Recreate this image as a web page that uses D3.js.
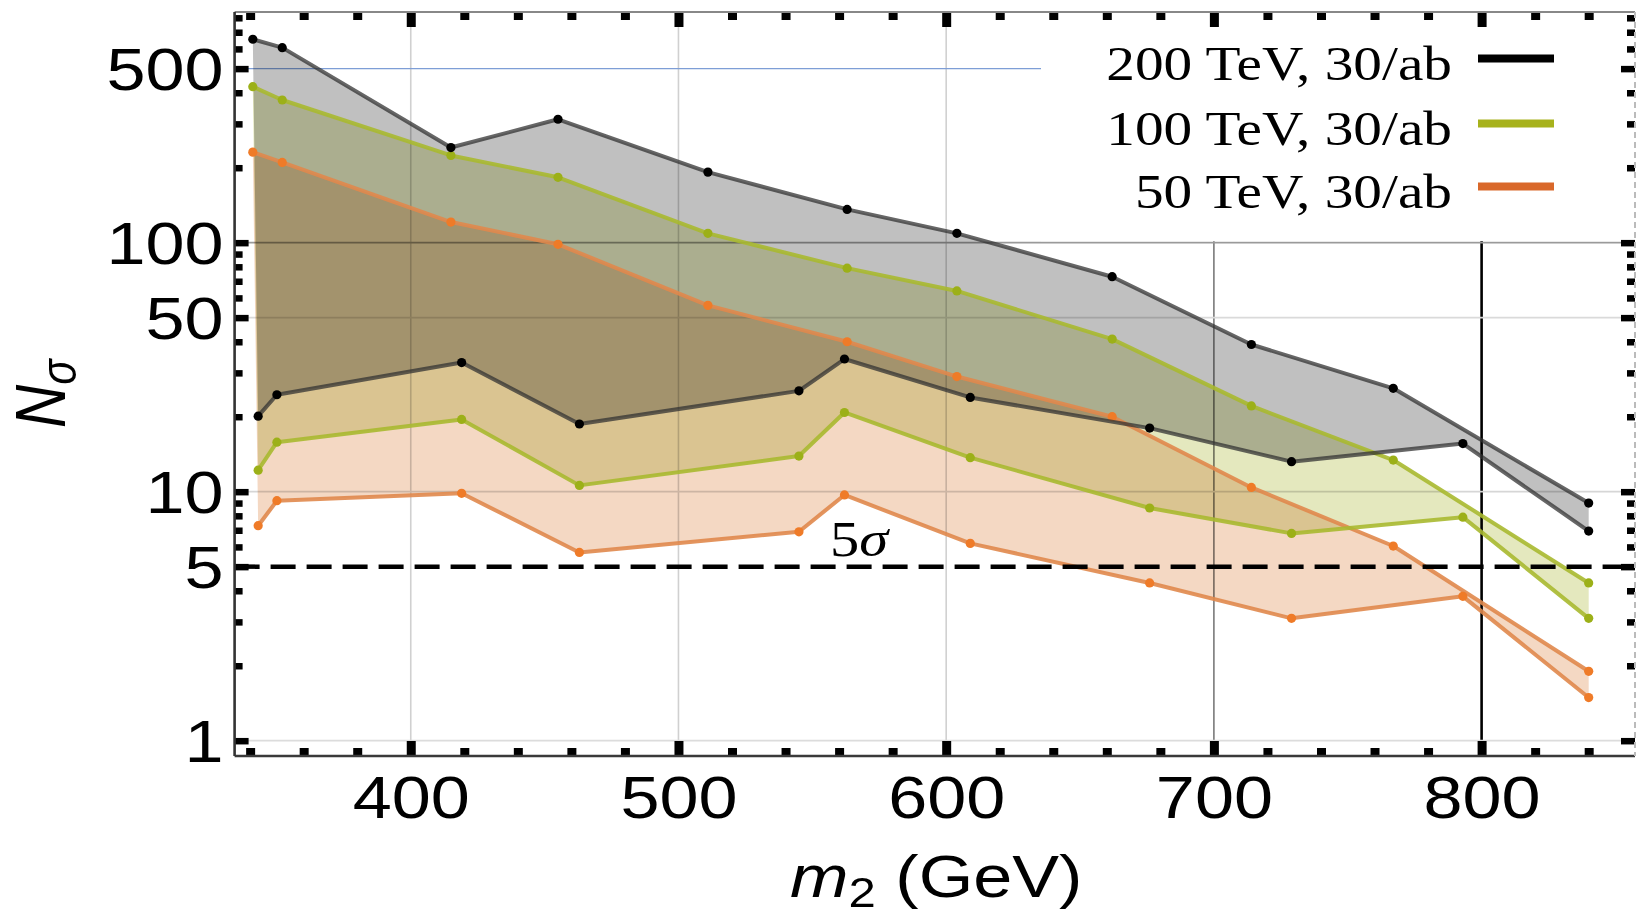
<!DOCTYPE html>
<html><head><meta charset="utf-8">
<script src="https://cdn.jsdelivr.net/npm/d3@7"></script>
<style>
html,body{margin:0;padding:0;background:#fff;}
svg{display:block;}
</style></head>
<body>
<svg id="chart" width="1637" height="915"></svg>
<script>
// ---------------- data ----------------
const seriesNames = ["200 TeV, 30/ab", "100 TeV, 30/ab", "50 TeV, 30/ab"];
const massUpper = [341, 352, 415, 455, 511, 563, 604, 662, 714, 767, 840];
const massLower = [343, 350, 419, 463, 545, 562, 609, 676, 729, 793, 840];
const nsig200Upper = [656, 607, 241, 313, 192, 136, 109, 73, 39, 26, 9.0];
const nsig200Lower = [20.1, 24.5, 33, 18.7, 25.4, 34.1, 23.9, 18.0, 13.2, 15.6, 6.95];
const nsig100Upper = [423, 374, 224, 183, 109, 79, 64, 41, 22.1, 13.4, 4.3];
const nsig100Lower = [12.2, 15.8, 19.5, 10.6, 13.9, 20.8, 13.7, 8.6, 6.8, 7.9, 3.1];
const nsig50Upper = [231, 210, 121, 98.5, 56, 40, 29, 20, 10.4, 6.05, 1.9];
const nsig50Lower = [7.3, 9.2, 9.85, 5.7, 6.9, 9.7, 6.2, 4.3, 3.1, 3.8, 1.49];
const threshold = 5;
const thresholdLabel = "5";
const xMajorTicks = [400, 500, 600, 700, 800];
const xMinorTicks = [340,360,380,420,440,460,480,520,540,560,580,620,640,660,680,720,740,760,780,820,840];
const yMajorTicks = [1, 5, 10, 50, 100, 500];
const yMinorTicks = [2,3,4,6,7,8,9,20,30,40,60,70,80,90,200,300,400,600,700,800];
const yGridValues = [1, 10, 50, 100];
const yBlueGrid = 500;

// ---------------- styles ----------------
const SX = 1.17; // horizontal text stretch of the original
const bandFill  = ["#c0c0c0", "#e4e8be", "#f4d8c3"];
const lineColor = ["#333333", "#a9b930", "#e0884c"];
const lineOpacity = [0.75, 0.9, 0.9];
const pointColor = ["#000000", "#9cb018", "#ef7b28"];
const legendColor = ["#000000", "#a7b21c", "#d9682a"];
const xGridColor = ["#d0d0d0", "#d0d0d0", "#d0d0d0", "#7a7a7a", "#000000"];
const xGridWidth = [1.6, 1.6, 1.6, 1.6, 2.6];
const yGridColor = ["#dcdcdc", "#d6d6d6", "#dadada", "#9a9a9a"];

const svg = d3.select("#chart");
const x = d3.scaleLinear().domain([334.2, 857.3]).range([234.6, 1635]);
const y = d3.scaleLog().domain([0.868, 844]).range([756, 12]);
const [X0, X1] = x.range();
const [Y0, Y1] = y.range();

svg.append("rect").attr("width", 1637).attr("height", 915).attr("fill", "#fff");

// gridlines
const grid = svg.append("g");
grid.selectAll("line.gx").data(xMajorTicks).join("line")
  .attr("x1", d => x(d)).attr("x2", d => x(d))
  .attr("y1", Y1).attr("y2", Y0)
  .attr("stroke", (d, i) => xGridColor[i]).attr("stroke-width", (d, i) => xGridWidth[i]);
grid.selectAll("line.gy").data(yGridValues).join("line")
  .attr("x1", X0).attr("x2", X1)
  .attr("y1", d => y(d)).attr("y2", d => y(d))
  .attr("stroke", (d, i) => yGridColor[i]).attr("stroke-width", 1.8);
grid.append("line")
  .attr("x1", X0).attr("x2", 1041).attr("y1", y(yBlueGrid)).attr("y2", y(yBlueGrid))
  .attr("stroke", "#7e9ed6").attr("stroke-width", 1.4);

// legend background box (covers gridlines)
svg.append("rect").attr("x", 1041).attr("y", Y1 + 1).attr("width", 1637 - 1041).attr("height", y(100) - Y1 - 2.5)
  .attr("fill", "#fff");

// series
const series = [
  {upper: nsig200Upper, lower: nsig200Lower},
  {upper: nsig100Upper, lower: nsig100Lower},
  {upper: nsig50Upper,  lower: nsig50Lower}
].map((s, i) => ({
  name: seriesNames[i],
  up: massUpper.map((m, j) => [m, s.upper[j]]),
  lo: massLower.map((m, j) => [m, s.lower[j]]),
  idx: i
}));

const line = d3.line().x(d => x(d[0])).y(d => y(d[1]));

// bands (multiply blend)
svg.append("g").selectAll("path").data(series).join("path")
  .attr("d", s => line(s.up.concat(s.lo.slice().reverse())) + "Z")
  .attr("fill", s => bandFill[s.idx])
  .style("mix-blend-mode", "multiply");

// lines & points, orange first, black on top
const drawOrder = [2, 1, 0];
drawOrder.forEach(i => {
  const s = series[i];
  const g = svg.append("g");
  [s.up, s.lo].forEach(pts => {
    g.append("path").attr("d", line(pts)).attr("fill", "none")
      .attr("stroke", lineColor[i]).attr("stroke-opacity", lineOpacity[i])
      .attr("stroke-width", 4).attr("stroke-linejoin", "round");
    g.selectAll(null).data(pts).join("circle")
      .attr("cx", d => x(d[0])).attr("cy", d => y(d[1])).attr("r", 4.6)
      .attr("fill", pointColor[i]);
  });
});

// 5 sigma line
svg.append("line")
  .attr("x1", X0).attr("x2", X1).attr("y1", y(threshold)).attr("y2", y(threshold))
  .attr("stroke", "#000").attr("stroke-width", 4.5).attr("stroke-dasharray", "25,11");
const sigText = svg.append("text")
  .attr("transform", `translate(830,${y(threshold) - 11}) scale(${SX},1)`)
  .attr("font-family", "Liberation Serif, Times New Roman, serif").attr("font-size", 50);
sigText.append("tspan").text(thresholdLabel);
sigText.append("tspan").attr("font-style", "italic").text("σ");

// ---------------- axes (frame ticks) ----------------
function styleTicks(g, w) {
  g.select(".domain").remove();
  g.selectAll(".tick line").attr("stroke", "#000").attr("stroke-width", w);
}
// bottom
svg.append("g").attr("transform", `translate(0,${Y0})`)
  .call(d3.axisBottom(x).tickValues(xMinorTicks).tickFormat("").tickSizeInner(-8).tickSizeOuter(0))
  .call(g => styleTicks(g, 9));
const bottomMajor = svg.append("g").attr("transform", `translate(0,${Y0})`)
  .call(d3.axisBottom(x).tickValues(xMajorTicks).tickFormat(d3.format("d")).tickSizeInner(-15).tickSizeOuter(0).tickPadding(19))
  .call(g => styleTicks(g, 9));
bottomMajor.selectAll(".tick text")
  .attr("font-family", "Liberation Sans, Arial, sans-serif").attr("font-size", 60).attr("fill", "#000")
  .attr("transform", `scale(${SX},1)`);
// top
svg.append("g").attr("transform", `translate(0,${Y1})`)
  .call(d3.axisTop(x).tickValues(xMinorTicks).tickFormat("").tickSizeInner(-8).tickSizeOuter(0))
  .call(g => styleTicks(g, 9));
svg.append("g").attr("transform", `translate(0,${Y1})`)
  .call(d3.axisTop(x).tickValues(xMajorTicks).tickFormat("").tickSizeInner(-15).tickSizeOuter(0))
  .call(g => styleTicks(g, 9));
// left
svg.append("g").attr("transform", `translate(${X0},0)`)
  .call(d3.axisLeft(y).tickValues(yMinorTicks).tickFormat("").tickSizeInner(-8).tickSizeOuter(0))
  .call(g => styleTicks(g, 6.5));
const leftMajor = svg.append("g").attr("transform", `translate(${X0},0)`)
  .call(d3.axisLeft(y).tickValues(yMajorTicks).tickFormat(d3.format("d")).tickSizeInner(-14).tickSizeOuter(0).tickPadding(0))
  .call(g => styleTicks(g, 6.5));
leftMajor.selectAll(".tick text")
  .attr("font-family", "Liberation Sans, Arial, sans-serif").attr("font-size", 60).attr("fill", "#000")
  .attr("x", -11 / SX).attr("dy", "0.34em")
  .attr("transform", `scale(${SX},1)`);
// right
svg.append("g").attr("transform", `translate(${X1},0)`)
  .call(d3.axisRight(y).tickValues(yMinorTicks).tickFormat("").tickSizeInner(-8).tickSizeOuter(0))
  .call(g => styleTicks(g, 6.5));
svg.append("g").attr("transform", `translate(${X1},0)`)
  .call(d3.axisRight(y).tickValues(yMajorTicks).tickFormat("").tickSizeInner(-14).tickSizeOuter(0))
  .call(g => styleTicks(g, 6.5));

// frame
svg.append("line").attr("x1", X0).attr("x2", X1).attr("y1", Y0).attr("y2", Y0).attr("stroke", "#3a3a3a").attr("stroke-width", 2.6);
svg.append("line").attr("x1", X0).attr("x2", X1).attr("y1", Y1).attr("y2", Y1).attr("stroke", "#888").attr("stroke-width", 2.2);
svg.append("line").attr("x1", X0).attr("x2", X0).attr("y1", Y1).attr("y2", Y0).attr("stroke", "#333").attr("stroke-width", 2.6);
svg.append("line").attr("x1", X1).attr("x2", X1).attr("y1", Y1).attr("y2", Y0).attr("stroke", "#bbb").attr("stroke-width", 2).attr("stroke-dasharray", "6,4");

// axis titles
const xt = svg.append("text")
  .attr("transform", `translate(790,897) scale(${SX},1)`)
  .attr("font-family", "Liberation Sans, Arial, sans-serif").attr("font-size", 60).attr("fill", "#000");
xt.append("tspan").attr("font-style", "italic").text("m");
xt.append("tspan").attr("font-size", 42).attr("dy", 10).text("2");
xt.append("tspan").attr("dy", -10).text(" (GeV)");

const yt = svg.append("text")
  .attr("transform", `translate(65,428) scale(${SX},1) rotate(-90)`)
  .attr("font-family", "Liberation Sans, Arial, sans-serif").attr("font-size", 60).attr("fill", "#000");
yt.append("tspan").attr("font-style", "italic").text("N");
yt.append("tspan").attr("font-style", "italic").attr("font-size", 42).attr("dy", 9).text("σ");

// legend
const legendBase = [80, 145, 208];
const legend = svg.append("g");
series.forEach((s, i) => {
  legend.append("text")
    .attr("transform", `translate(1452,${legendBase[i]}) scale(${SX},1)`)
    .attr("text-anchor", "end")
    .attr("font-family", "Liberation Serif, Times New Roman, serif").attr("font-size", 49).attr("fill", "#000")
    .text(s.name);
  legend.append("line")
    .attr("x1", 1478).attr("x2", 1554)
    .attr("y1", legendBase[i] - 21.5).attr("y2", legendBase[i] - 21.5)
    .attr("stroke", legendColor[i]).attr("stroke-width", 8);
});
</script>
</body></html>
